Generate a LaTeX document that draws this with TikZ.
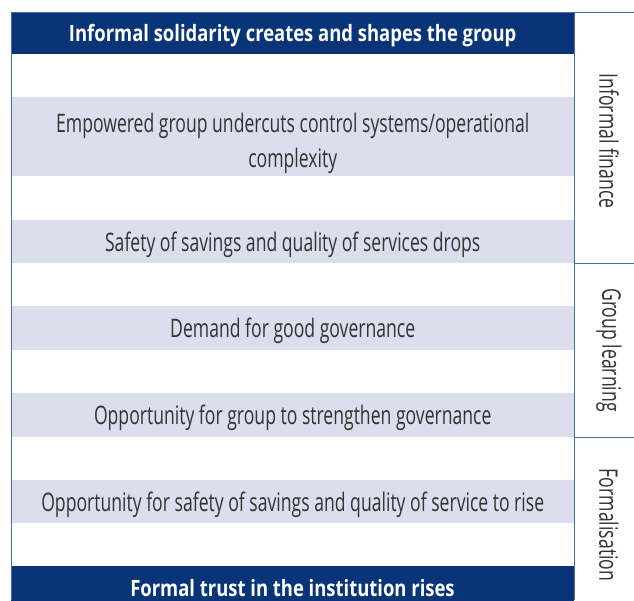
\documentclass[tikz,border=0pt]{standalone}
\usepackage{fontspec}
\setmainfont[FakeStretch=0.69]{Open Sans}
\newfontfamily\headfont[FakeStretch=0.82]{Open Sans}
\usetikzlibrary{calc}
\definecolor{darkband}{RGB}{10,52,120}
\definecolor{lightband}{RGB}{218,222,237}
\definecolor{rulecol}{RGB}{74,107,171}

\begin{document}
\begin{tikzpicture}[x=1pt, y=-1pt,
    band/.style={anchor=north west, fill=lightband, minimum width=563pt, inner sep=0pt,
      align=center, text=black!80, text height=19pt, text depth=0pt,
      font=\fontsize{25.5}{35}\selectfont},
    head/.style={anchor=north west, fill=darkband, minimum width=563pt, inner sep=0pt,
      text=white, text height=16pt, text depth=-4pt, font=\fontsize{22.5}{26}\headfont\bfseries},
    side/.style={rotate=-90, text=black!80, font=\fontsize{25.5}{28}\selectfont}]
      \useasboundingbox (0,0) rectangle (634,600);

      % states
      \coordinate (newcenter) at (11,12);
      \coordinate (xlength) at (563,0);
      \coordinate (sidecenter) at (609,0);

      % dark bands
      \node [head, minimum height=42pt, name=top] at (newcenter)
        {Informal solidarity creates and shapes the group};
      \fill [darkband] ($(newcenter) + (0,554)$) rectangle ($(newcenter) + (xlength) + (0,600)$);
      \node [text=white, font=\fontsize{22.5}{26}\headfont\bfseries, anchor=base, name=bottom] at
      ($(newcenter) + 0.5*(xlength) + (0,584)$) {Formal trust in the institution rises};

      % light bands
      \node [band, minimum height=79pt, text height=61pt, name=r1] at ($(newcenter) + (0,85)$)
        {Empowered group undercuts control systems/operational\\complexity};
      \node [band, minimum height=43pt, name=r2] at ($(newcenter) + (0,208)$)
        {Safety of savings and quality of services drops};
      \node [band, minimum height=44pt, name=r3] at ($(newcenter) + (0,294)$)
        {Demand for good governance};
      \node [band, minimum height=44pt, name=r4] at ($(newcenter) + (0,381)$)
        {Opportunity for group to strengthen governance};
      \node [band, minimum height=43pt, name=r5] at ($(newcenter) + (0,468)$)
        {Opportunity for safety of savings and quality of service to rise};

      % frame
      \draw [rulecol, line width=1pt] (11,600) -- (newcenter) -- (634,12);
      \draw [rulecol, line width=1pt] (574,12) -- (574,600);
      \draw [rulecol, line width=1pt] (574,263) -- (634,263);
      \draw [rulecol, line width=1pt] (574,437) -- (634,437);

      % stages
      \node [side, name=s1] at ($(sidecenter) + (0,141)$) {Informal finance};
      \node [side, name=s2] at ($(sidecenter) + (0,350)$) {Group learning};
      \node [side, name=s3] at ($(sidecenter) + (0,525)$) {Formalisation};
    \end{tikzpicture}
\end{document}
